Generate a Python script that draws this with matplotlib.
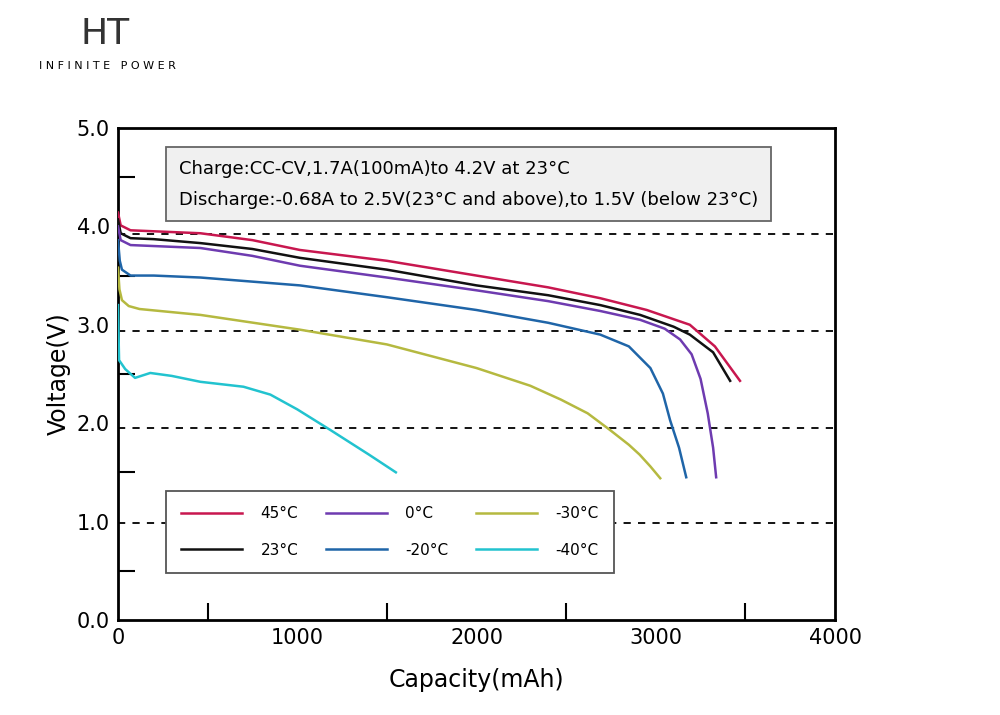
import matplotlib.pyplot as plt
from matplotlib.ticker import MultipleLocator

# values
cap_45 = [0, 15, 70, 200, 460, 750, 1015, 1500, 2000, 2400, 2690, 2950, 3190, 3330, 3470]
v_45 = [4.14, 4.01, 3.96, 3.95, 3.93, 3.86, 3.76, 3.65, 3.50, 3.38, 3.27, 3.15, 3.00, 2.78, 2.43]
cap_23 = [0, 15, 70, 200, 460, 750, 1015, 1500, 2000, 2400, 2690, 2913, 3100, 3190, 3320, 3415]
v_23 = [4.07, 3.93, 3.88, 3.87, 3.83, 3.77, 3.68, 3.56, 3.40, 3.30, 3.20, 3.10, 2.98, 2.90, 2.72, 2.43]
cap_0 = [0, 15, 70, 200, 460, 750, 1015, 1500, 2000, 2400, 2690, 2913, 3050, 3136, 3200, 3250, 3290, 3320, 3337]
v_0 = [4.00, 3.86, 3.81, 3.80, 3.78, 3.70, 3.60, 3.48, 3.35, 3.24, 3.14, 3.05, 2.96, 2.85, 2.70, 2.45, 2.10, 1.75, 1.45]
cap_m20 = [0, 10, 22, 70, 200, 460, 1015, 1500, 2000, 2400, 2690, 2850, 2970, 3040, 3080, 3130, 3170]
v_m20 = [3.86, 3.65, 3.56, 3.50, 3.50, 3.48, 3.40, 3.28, 3.15, 3.02, 2.90, 2.78, 2.56, 2.30, 2.03, 1.75, 1.45]
cap_m30 = [0, 8, 22, 60, 120, 460, 1015, 1500, 2000, 2300, 2470, 2620, 2745, 2850, 2910, 2970, 3025]
v_m30 = [3.58, 3.36, 3.25, 3.19, 3.16, 3.10, 2.95, 2.80, 2.56, 2.38, 2.24, 2.10, 1.93, 1.78, 1.68, 1.56, 1.44]
cap_m40 = [0, 3, 6, 40, 95, 180, 300, 460, 700, 850, 1000, 1185, 1400, 1550]
v_m40 = [3.20, 2.90, 2.64, 2.55, 2.46, 2.51, 2.48, 2.42, 2.37, 2.29, 2.14, 1.93, 1.68, 1.50]

series = [
    ("45°C", cap_45, v_45, "#c8174f"),
    ("23°C", cap_23, v_23, "#111111"),
    ("0°C", cap_0, v_0, "#6e3bb0"),
    ("-20°C", cap_m20, v_m20, "#1f65a8"),
    ("-30°C", cap_m30, v_m30, "#b5b940"),
    ("-40°C", cap_m40, v_m40, "#22c3cf"),
]
ref_lines = [3.92, 2.94, 1.95, 0.98]

fig = plt.figure(figsize=(10, 7.15), dpi=100)
ax = fig.add_axes([0.118, 0.133, 0.717, 0.688])

for v in ref_lines:
    ax.axhline(v, color="black", ls=(0, (4, 4)), lw=1.3, zorder=1)

handles = []
for name, c, v, col in series:
    h, = ax.plot(c, v, color=col, lw=1.8, label=name, zorder=3)
    handles.append(h)

ax.set_xlim(0, 4000)
ax.set_ylim(0, 5)
ax.xaxis.set_major_locator(MultipleLocator(1000))
ax.yaxis.set_major_locator(MultipleLocator(1.0))
ax.xaxis.set_minor_locator(MultipleLocator(500))
ax.yaxis.set_minor_locator(MultipleLocator(0.5))
ax.yaxis.set_major_formatter(lambda v, p: f"{v:.1f}")
ax.tick_params(which="major", length=0, labelsize=15, pad=6)
ax.tick_params(which="minor", direction="in", length=12, width=1.5)
for s in ax.spines.values():
    s.set_linewidth(2)
ax.set_xlabel("Capacity(mAh)", fontsize=17, labelpad=14)
ax.set_ylabel("Voltage(V)", fontsize=17)

ax.text(0.085, 0.935,
        "Charge:CC-CV,1.7A(100mA)to 4.2V at 23°C\n"
        "Discharge:-0.68A to 2.5V(23°C and above),to 1.5V (below 23°C)",
        transform=ax.transAxes, fontsize=13, va="top", linespacing=1.9,
        bbox=dict(boxstyle="square,pad=0.7", fc="#f0f0f0", ec="#666666", lw=1.3))

leg = ax.legend(handles, [s[0] for s in series],
                ncol=3, loc="lower left", bbox_to_anchor=(0.056, 0.08),
                fontsize=11, frameon=True, fancybox=False, edgecolor="#555555",
                framealpha=1, handlelength=4, columnspacing=1.8, labelspacing=1.4,
                borderpad=1.0, handletextpad=1.2)
leg.get_frame().set_linewidth(1.3)

fig.text(0.105, 0.953, "HT", fontsize=26, ha="center", va="center", color="#333333")
fig.text(0.107, 0.908, "I N F I N I T E   P O W E R", fontsize=8, ha="center", va="center")

fig.savefig("out.png", dpi=100)
